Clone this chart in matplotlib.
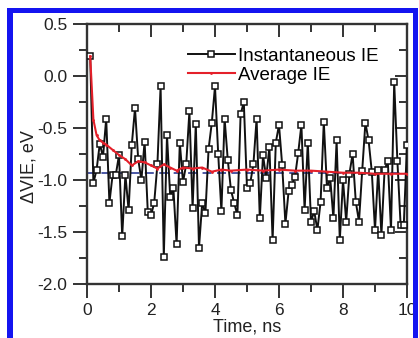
import matplotlib
matplotlib.use("Agg")
import matplotlib.pyplot as plt
from matplotlib.patches import Rectangle
from matplotlib.ticker import MultipleLocator

plt.rcParams["font.family"] = ["Liberation Sans", "DejaVu Sans"]

# time axis, ns (one sample every 0.1 ns)
time_ns = [round(0.1 * k, 1) for k in range(1, 101)]

# instantaneous ionization energy shift, eV
inst_ie = [
    0.19, -1.03, -0.90, -0.65, -0.78, -0.41, -1.22, -0.95, -0.95, -0.76,
    -1.54, -0.95, -1.29, -0.66, -0.31, -0.80, -1.00, -0.63, -1.31, -1.34,
    -1.22, -0.85, -0.10, -1.74, -0.57, -1.16, -1.08, -1.62, -0.64, -1.02,
    -0.85, -0.34, -1.27, -0.46, -1.65, -1.22, -1.32, -0.70, -0.45, -0.10,
    -0.75, -1.30, -0.41, -0.81, -1.10, -1.22, -1.34, -0.37, -0.25, -1.08,
    -1.03, -0.85, -0.41, -1.37, -0.76, -0.98, -0.68, -1.58, -0.64, -0.47,
    -0.86, -1.42, -1.11, -1.05, -0.97, -0.74, -0.47, -1.29, -0.64, -1.40,
    -1.30, -1.48, -1.21, -0.44, -1.08, -0.98, -1.37, -0.62, -1.58, -1.00,
    -1.40, -0.94, -0.75, -1.21, -1.40, -0.91, -0.45, -0.62, -0.92, -1.48,
    -0.90, -1.53, -0.90, -0.82, -1.48, -0.06, -0.82, -1.43, -1.43, -0.66,
]

# running average
avg_time = [0.1, 0.2, 0.3, 0.4, 0.5, 0.6, 0.8, 1.0, 1.2, 1.4, 1.6, 1.8,
            2.0, 2.2, 2.4, 2.6, 2.8, 3.0, 3.3, 3.6, 3.9, 4.2, 4.5, 5.0,
            5.5, 6.0, 6.5, 7.0, 7.5, 8.0, 8.5, 9.0, 9.5, 10.0]
avg_ie = [0.19, -0.42, -0.57, -0.62, -0.64, -0.66, -0.71, -0.76, -0.80,
          -0.86, -0.82, -0.83, -0.86, -0.89, -0.85, -0.88, -0.91, -0.88,
          -0.89, -0.88, -0.92, -0.90, -0.91, -0.90, -0.91, -0.90, -0.91,
          -0.91, -0.92, -0.93, -0.93, -0.94, -0.94, -0.94]

# long-time limit (blue dashed)
limit_time = [0.0, 10.0]
limit_ie = [-0.93, -0.93]

fig = plt.figure(figsize=(4.19, 3.38), dpi=100)
ax = fig.add_axes([87 / 419, 1 - 284 / 338, 320 / 419, 260 / 338])

ax.plot(limit_time, limit_ie, color="#3b4a9e", lw=1.3, dashes=(5, 3), zorder=2)
ax.plot(time_ns, inst_ie, color="#111111", lw=1.4, marker="s", ms=4,
        mfc="white", mec="#111111", mew=1.1, label="Instantaneous IE", zorder=3)
ax.plot(avg_time, avg_ie, color="#e4202a", lw=1.5, marker=".", ms=2,
        label="Average IE", zorder=4)

ax.set_xlim(0, 10)
ax.set_ylim(-2.0, 0.5)
ax.xaxis.set_major_locator(MultipleLocator(2))
ax.xaxis.set_minor_locator(MultipleLocator(1))
ax.yaxis.set_major_locator(MultipleLocator(0.5))
ax.yaxis.set_minor_locator(MultipleLocator(0.25))
ax.yaxis.set_major_formatter(plt.FormatStrFormatter("%.1f"))

# Origin-like ticks: out on bottom/left, in on top/right
ax.tick_params(which="both", direction="out", top=False, right=False,
               width=1.4, color="#333333", labelsize=12.5, labelcolor="#222222")
ax.tick_params(which="major", length=10, pad=4)
ax.tick_params(which="minor", length=6)
sec_x = ax.secondary_xaxis("top")
sec_x.xaxis.set_major_locator(MultipleLocator(2))
sec_x.xaxis.set_minor_locator(MultipleLocator(1))
sec_x.tick_params(which="both", direction="in", width=1.4, color="#333333",
                  labeltop=False)
sec_x.tick_params(which="major", length=9)
sec_x.tick_params(which="minor", length=6)
sec_y = ax.secondary_yaxis("right")
sec_y.yaxis.set_major_locator(MultipleLocator(0.5))
sec_y.yaxis.set_minor_locator(MultipleLocator(0.25))
sec_y.tick_params(which="both", direction="in", width=1.4, color="#333333",
                  labelright=False)
sec_y.tick_params(which="major", length=9)
sec_y.tick_params(which="minor", length=6)
for sec in (sec_x, sec_y):
    for sp in sec.spines.values():
        sp.set_visible(False)

for sp in ax.spines.values():
    sp.set_linewidth(1.7)
    sp.set_color("#333333")

ax.set_xlabel("Time, ns", fontsize=13, color="#222222", labelpad=0)
ax.set_ylabel("\u0394VIE, eV", fontsize=13, color="#222222")
ax.yaxis.set_label_coords(-0.155, 0.45)

ax.legend(loc="upper left", bbox_to_anchor=(0.315, 0.91), frameon=False,
          fontsize=13.5, handlelength=2.5, handletextpad=0.2,
          labelspacing=0.1, borderpad=0, borderaxespad=0)

# blue frame around the figure (open at the bottom)
blue = "#1414f0"
for x0, y0, w, h in [(7, 0, 6, 330), (7, 325, 411, 5), (413, 0, 5, 330)]:
    fig.add_artist(Rectangle((x0 / 419, y0 / 338), w / 419, h / 338,
                             transform=fig.transFigure, color=blue, lw=0))

fig.savefig("out.png", dpi=100)
